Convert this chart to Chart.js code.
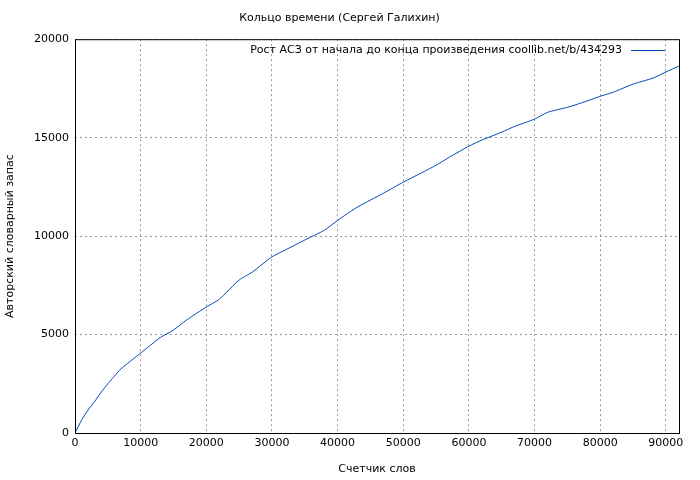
<!DOCTYPE html>
<html lang="ru">
<head>
  <meta charset="UTF-8">
  <title>Кольцо времени</title>
  <script src="https://cdn.jsdelivr.net/npm/chart.js"></script>
  <style>
    body { margin: 0; background: #fff; }
    #wrap { width: 700px; height: 480px; }
  </style>
</head>
<body>
  <div id="wrap"><canvas id="chart" width="700" height="480"></canvas></div>
  <script>
    const titleText = 'Кольцо времени (Сергей Галихин)';
    const seriesLabel = 'Рост АСЗ от начала до конца произведения coollib.net/b/434293';
    const xTicks = [0, 10000, 20000, 30000, 40000, 50000, 60000, 70000, 80000, 90000];
    const yTicks = [0, 5000, 10000, 15000, 20000];
    const words = [0, 1000, 2000, 3000, 4000, 5000, 7000, 10000, 13000, 15000, 17000, 20000, 22000, 25000, 27000, 30000, 32000, 35000, 38000, 40000, 43000, 45000, 47000, 50000, 53000, 55000, 57000, 60000, 62000, 65000, 67000, 70000, 72000, 75000, 77000, 80000, 82000, 85000, 88000, 90000, 92000];
    const vocab = [0, 650, 1170, 1600, 2080, 2500, 3250, 4060, 4850, 5230, 5740, 6400, 6800, 7770, 8170, 8950, 9290, 9800, 10300, 10800, 11470, 11830, 12180, 12740, 13250, 13600, 14000, 14570, 14880, 15280, 15580, 15940, 16290, 16540, 16750, 17100, 17310, 17720, 18020, 18330, 18640];

    const font = { family: 'DejaVu Sans', size: 11, weight: 'normal' };
    Chart.defaults.font = font;
    Chart.defaults.color = '#000';

    const frame = {
      id: 'frame',
      afterDraw(c) {
        const { ctx, chartArea: a } = c;
        ctx.save();
        ctx.strokeStyle = '#000';
        ctx.lineWidth = 1;
        ctx.strokeRect(a.left + 0.5, a.top + 0.5, a.right - a.left, a.bottom - a.top);
        ctx.font = '11px DejaVu Sans';
        ctx.fillStyle = '#000';
        ctx.textAlign = 'right';
        ctx.textBaseline = 'middle';
        ctx.fillText(seriesLabel, 622, 50);
        ctx.strokeStyle = '#0047bb';
        ctx.beginPath();
        ctx.moveTo(631, 50.5);
        ctx.lineTo(665, 50.5);
        ctx.stroke();
        ctx.restore();
      }
    };

    new Chart(document.getElementById('chart'), {
      type: 'line',
      data: {
        datasets: [{
          label: seriesLabel,
          data: words.map((w, i) => ({ x: w, y: vocab[i] })),
          borderColor: '#0047bb',
          borderWidth: 1,
          pointRadius: 0,
          tension: 0.2
        }]
      },
      options: {
        responsive: false,
        animation: false,
        layout: { padding: { top: 0, right: 21, bottom: 0, left: 0 } },
        plugins: {
          legend: { display: false },
          title: { display: true, text: titleText, font: font, padding: { top: 12, bottom: 14 } }
        },
        scales: {
          x: {
            type: 'linear', min: 0, max: 92000,
            afterBuildTicks(s) { s.ticks = xTicks.map(v => ({ value: v })); },
            ticks: { maxRotation: 0, padding: 4, callback: v => String(v) },
            grid: { color: '#999', drawTicks: false },
            border: { dash: [2, 3], display: false },
            title: { display: true, text: 'Счетчик слов', font: font, padding: { top: 10 } },
            afterFit(s) { s.height = 47; s.paddingRight = 0; s.paddingLeft = 0; }
          },
          y: {
            min: 0, max: 20000,
            afterBuildTicks(s) { s.ticks = yTicks.map(v => ({ value: v })); },
            ticks: { padding: 6, callback: v => String(v) },
            grid: { color: '#999', drawTicks: false },
            border: { dash: [2, 3], display: false },
            title: { display: true, text: 'Авторский словарный запас', font: font },
            afterFit(s) { s.width = 75; }
          }
        }
      },
      plugins: [frame]
    });
  </script>
</body>
</html>
